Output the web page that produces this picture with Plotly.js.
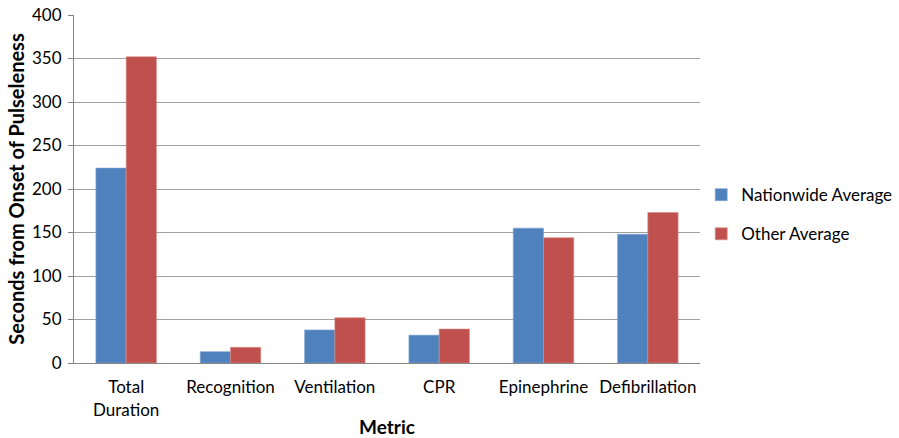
<!DOCTYPE html>
<html>
<head>
<meta charset="utf-8">
<script src="https://cdn.plot.ly/plotly-3.0.1.min.js"></script>
<style>html,body{margin:0;padding:0;background:#fff;}#chart{width:899px;height:438px;}</style>
</head>
<body>
<div id="chart"></div>
<script>
const categories = ["Total<br>Duration", "Recognition", "Ventilation", "CPR", "Epinephrine", "Defibrillation"];
const nationwide = [224, 13, 38, 32, 155, 148];
const other = [352, 18, 52, 39, 144, 173];
const seriesNames = ["Nationwide Average", "Other Average"];
const yTicks = [0, 50, 100, 150, 200, 250, 300, 350, 400];

const font = "Lato, 'Open Sans', sans-serif";
const traces = [
  {type: "bar", name: seriesNames[0], legendgroup: "a", x: categories, y: nationwide,
   marker: {color: "#4F81BD", line: {color: "#7FA3D3", width: 0.6}}},
  {type: "bar", name: seriesNames[1], legendgroup: "b", x: categories, y: other,
   marker: {color: "#C0504D", line: {color: "#D88A88", width: 0.6}}}
];
const layout = {
  width: 899, height: 438,
  margin: {l: 74, r: 199, t: 14.5, b: 75, autoexpand: false},
  paper_bgcolor: "#fff", plot_bgcolor: "#fff",
  barmode: "group", bargap: 0.42, bargroupgap: 0,
  font: {family: font, size: 17, color: "#000"},
  showlegend: true,
  legend: {xref: "container", yref: "container", x: 0.78, y: 0.51, xanchor: "left", yanchor: "middle",
           font: {family: font, size: 17, color: "#000"}, tracegroupgap: 14, itemwidth: 30},
  xaxis: {
    type: "category", showline: true, linecolor: "#868686", linewidth: 1,
    ticks: "", showgrid: false, tickfont: {family: font, size: 17},
    ticklabelstandoff: 9,
    title: {text: "<b>Metric</b>", font: {family: font, size: 19}, standoff: 4}
  },
  yaxis: {
    range: [0, 400], tickvals: yTicks, ticktext: yTicks.map(String),
    showline: true, linecolor: "#868686", linewidth: 1,
    ticks: "outside", ticklen: 5, tickcolor: "#868686",
    showgrid: true, gridcolor: "#a0a0a0", gridwidth: 1, zeroline: false,
    tickfont: {family: font, size: 17}, ticklabelstandoff: 3,
    title: {text: "<b>Seconds from Onset of Pulseleness</b>", font: {family: font, size: 20}, standoff: 2}
  }
};
Plotly.newPlot("chart", traces, layout, {displayModeBar: false, staticPlot: true});
</script>
</body>
</html>
